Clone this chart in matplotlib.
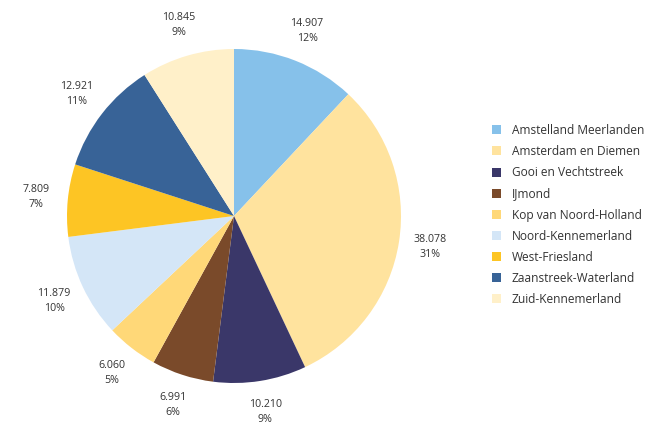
import matplotlib
matplotlib.use("Agg")
import matplotlib.pyplot as plt
import numpy as np
from matplotlib.patches import Patch

plt.rcParams['font.family'] = ['Open Sans', 'DejaVu Sans']

regions = ["Amstelland Meerlanden", "Amsterdam en Diemen", "Gooi en Vechtstreek",
           "IJmond", "Kop van Noord-Holland", "Noord-Kennemerland", "West-Friesland",
           "Zaanstreek-Waterland", "Zuid-Kennemerland"]
values = [14907, 38078, 10210, 6991, 6060, 11879, 7809, 12921, 10845]
percents = [12, 31, 9, 6, 5, 10, 7, 11, 9]
colors = ["#86C1EA", "#FFE39E", "#3A3769", "#7A4A2A", "#FFD878", "#D4E6F7",
          "#FDC524", "#386397", "#FFF0C9"]

W, H = 651, 428
fig = plt.figure(figsize=(W/100, H/100), dpi=100)
cx, cy, r = 234, 216, 167
ax = fig.add_axes([(cx - r)/W, (H - cy - r)/H, 2*r/W, 2*r/H])
wedges, _ = ax.pie(percents, colors=colors, startangle=90, counterclock=False,
                   radius=1, wedgeprops=dict(linewidth=0))
ax.set_xlim(-1, 1)
ax.set_ylim(-1, 1)
ax.set_aspect('equal')
ax.axis('off')

for w, v, p in zip(wedges, values, percents):
    ang = np.deg2rad((w.theta1 + w.theta2) / 2)
    d = 1.19
    x, y = d*np.cos(ang), d*np.sin(ang)
    num = f"{v:,}".replace(",", ".")
    ax.text(x, y, f"{num}\n{p}%", ha='center', va='center', fontsize=7.7,
            color='#333333', linespacing=1.5, clip_on=False)

handles = [Patch(facecolor=c, edgecolor='none') for c in colors]
fig.legend(handles, regions, loc='center left', bbox_to_anchor=(481/W, 1 - 215/H),
           frameon=False, fontsize=8.6, handlelength=0.78, handleheight=0.78,
           handletextpad=0.9, labelspacing=0.68, labelcolor='#333333')

fig.savefig("out.png", dpi=100)
